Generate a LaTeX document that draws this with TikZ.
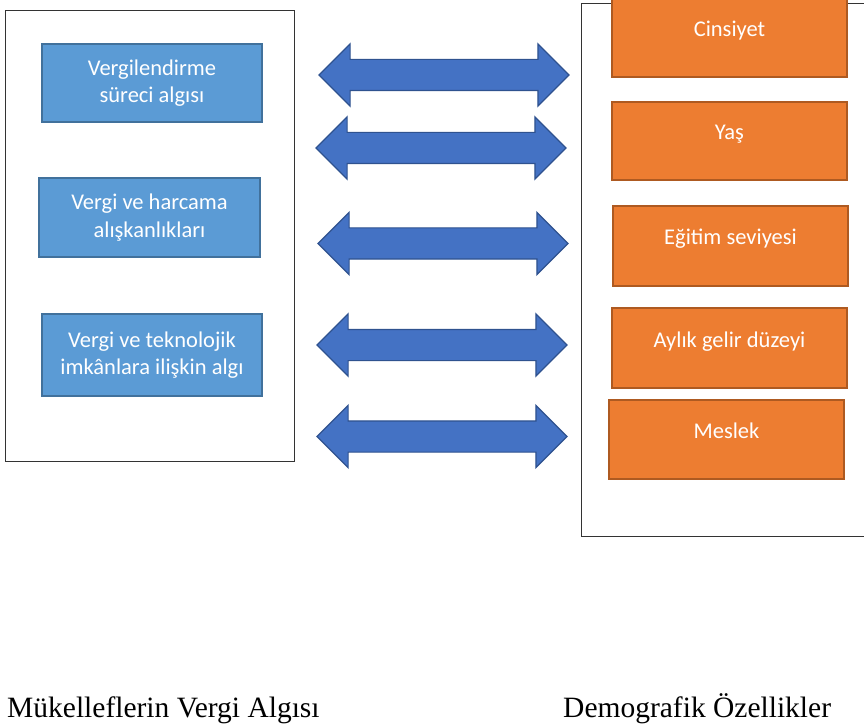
\documentclass[tikz,border=0pt]{standalone}
\usepackage{fontspec}
\setmainfont{Carlito}
\newfontfamily\capfont{Liberation Serif}
\usepackage{tikz}
\usetikzlibrary{shapes.arrows}

\definecolor{BoxBlue}{HTML}{5B9BD5}
\definecolor{BoxBlueLine}{HTML}{41719C}
\definecolor{BoxOrange}{HTML}{ED7D31}
\definecolor{BoxOrangeLine}{HTML}{AE5A21}
\definecolor{ArrowBlue}{HTML}{4472C4}
\definecolor{ArrowBlueLine}{HTML}{2F528F}

\begin{document}
\begin{tikzpicture}[x=1pt,y=-1pt,
    frame/.style={draw=black!80,line width=0.9pt},
    bluebox/.style={draw=BoxBlueLine,fill=BoxBlue,line width=1.3pt,text=white,
        align=center,font=\fontsize{22.5}{27.5}\selectfont,inner sep=0pt},
    orangebox/.style={draw=BoxOrangeLine,fill=BoxOrange,line width=1.3pt,text=white,
        font=\fontsize{22.5}{27.5}\selectfont,inner sep=0pt,minimum width=235pt,
        text height=15pt,text depth=17pt},
    twoway/.style={double arrow,double arrow head extend=15.5pt,draw=ArrowBlueLine,
        fill=ArrowBlue,line width=1.2pt,minimum height=250pt,minimum width=61pt,
        inner sep=0pt,text height=30pt,text depth=0pt},
    caption/.style={font=\capfont\fontsize{29.5}{34}\selectfont,anchor=base west,inner sep=0pt}]
    \useasboundingbox (0,0) rectangle (864,727);

    % the two frames
    \draw[frame] (5,10) rectangle (294,461);
    \draw[frame] (581,3) rectangle (870,536);

    % tax perception
    \node[bluebox,minimum width=220pt,minimum height=78pt] (surec) at (152,83) {Vergilendirme\\süreci algısı};
    \node[bluebox,minimum width=221pt,minimum height=79pt] (harcama) at (149.5,217.5) {Vergi ve harcama\\alışkanlıkları};
    \node[bluebox,minimum width=220pt,minimum height=82pt] (teknoloji) at (152,355) {Vergi ve teknolojik\\imkânlara ilişkin algı};

    % demographics
    \node[orangebox,minimum height=78pt] (cinsiyet) at (729.5,38) {Cinsiyet};
    \node[orangebox,minimum height=78pt] (yas) at (729.5,141) {Yaş};
    \node[orangebox,minimum height=80pt] (egitim) at (730.5,246) {Eğitim seviyesi};
    \node[orangebox,minimum height=80pt] (gelir) at (729.5,348) {Aylık gelir düzeyi};
    \node[orangebox,minimum height=79pt] (meslek) at (726.5,439.5) {Meslek};

    % double arrows
    \node[twoway] (ok1) at (444,75) {};
    \node[twoway] (ok2) at (441,148) {};
    \node[twoway] (ok3) at (443,243.5) {};
    \node[twoway] (ok4) at (442,345) {};
    \node[twoway] (ok5) at (442,436.5) {};

    \node[caption] (algi) at (7,717) {Mükelleflerin Vergi Algısı};
    \node[caption] (demo) at (563,717) {Demografik Özellikler};
\end{tikzpicture}
\end{document}
